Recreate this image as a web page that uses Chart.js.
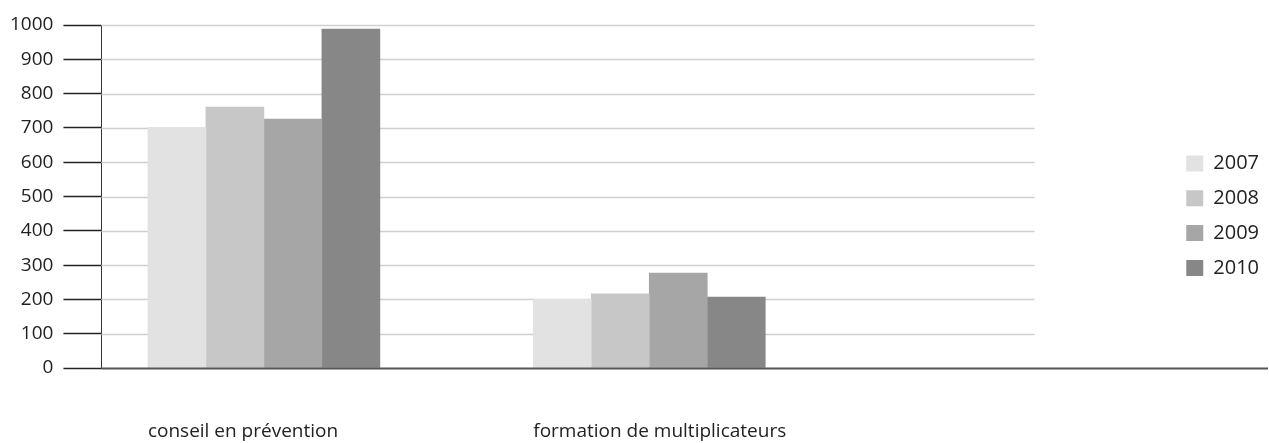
<!DOCTYPE html>
<html>
<head>
<meta charset="utf-8">
<script src="https://cdn.jsdelivr.net/npm/chart.js@4/dist/chart.umd.min.js"></script>
<style>
  html, body { margin: 0; padding: 0; background: #ffffff; }
  #wrap { width: 1269px; height: 443px; }
</style>
</head>
<body>
<div id="wrap"><canvas id="c" width="1269" height="443"></canvas></div>
<script>
const categories = ['conseil en prévention', 'formation de multiplicateurs'];
const years = ['2007', '2008', '2009', '2010'];
const values2007 = [702, 200];
const values2008 = [761, 216];
const values2009 = [726, 277];
const values2010 = [988, 207];
const yTicks = [0, 100, 200, 300, 400, 500, 600, 700, 800, 900, 1000];

const seriesValues = [values2007, values2008, values2009, values2010];
const colors = ['#e2e2e2', '#c6c7c6', '#a6a6a6', '#878787'];
const barWidth = 58;
const gridEndValue = 2;

const datasets = years.map((y, k) => ({
  label: y,
  data: seriesValues[k].map((v, i) => ({ x: i, y: v })),
  backgroundColor: colors[k],
  borderWidth: 0,
  barThickness: barWidth
}));

const customAxes = {
  id: 'customAxes',
  beforeDatasetsDraw(chart) {
    const { ctx, chartArea, scales } = chart;
    const xEnd = scales.x.getPixelForValue(gridEndValue);
    ctx.save();
    ctx.strokeStyle = '#d0d0d0';
    ctx.lineWidth = 1.5;
    yTicks.forEach(t => {
      if (t === 0) return;
      const py = Math.round(scales.y.getPixelForValue(t)) + 0.5;
      ctx.beginPath();
      ctx.moveTo(chartArea.left, py);
      ctx.lineTo(xEnd, py);
      ctx.stroke();
    });
    ctx.restore();
  },
  afterDatasetsDraw(chart) {
    const { ctx, chartArea, scales } = chart;
    const py = Math.round(scales.y.getPixelForValue(0)) + 0.5;
    ctx.save();
    ctx.strokeStyle = '#555555';
    ctx.lineWidth = 2;
    ctx.beginPath();
    ctx.moveTo(chartArea.left, py);
    ctx.lineTo(chart.width - 1, py);
    ctx.stroke();
    ctx.restore();
  }
};

new Chart(document.getElementById('c'), {
  type: 'bar',
  data: { datasets },
  plugins: [customAxes],
  options: {
    responsive: false,
    animation: false,
    layout: { padding: { left: 0, right: 0, top: 25, bottom: 0 } },
    plugins: {
      tooltip: { enabled: false },
      legend: {
        position: 'right',
        align: 'center',
        fullSize: false,
        title: { display: true, text: ' ', font: { size: 12 }, padding: { top: 24, bottom: 0 } },
        labels: {
          boxWidth: 17,
          boxHeight: 16,
          padding: 14.8,
          color: '#222222',
          font: { family: 'Open Sans', size: 20 }
        }
      }
    },
    scales: {
      x: {
        type: 'linear',
        offset: false,
        min: -0.4215,
        max: 2.355,
        grid: { display: false, drawTicks: true, tickLength: 53 },
        border: { display: false },
        afterBuildTicks(scale) {
          scale.ticks = categories.map((c, i) => ({ value: i }));
        },
        ticks: {
          autoSkip: false,
          maxRotation: 0,
          align: 'start',
          labelOffset: -2 * barWidth,
          padding: 1.5,
          color: '#222222',
          font: { family: 'Open Sans', size: 19, lineHeight: 1 },
          callback: (v) => categories[v] !== undefined ? categories[v] : ''
        }
      },
      y: {
        min: 0,
        max: 1000,
        afterBuildTicks(scale) {
          scale.ticks = yTicks.map(v => ({ value: v }));
        },
        grid: {
          display: true,
          drawOnChartArea: false,
          drawTicks: true,
          tickLength: 38,
          tickColor: '#222222',
          tickWidth: 1.5
        },
        border: { display: true, color: '#333333', width: 1 },
        ticks: {
          padding: 10,
          color: '#222222',
          font: { family: 'Open Sans', size: 19 },
          callback: (v) => String(v)
        }
      }
    }
  }
});
</script>
</body>
</html>
